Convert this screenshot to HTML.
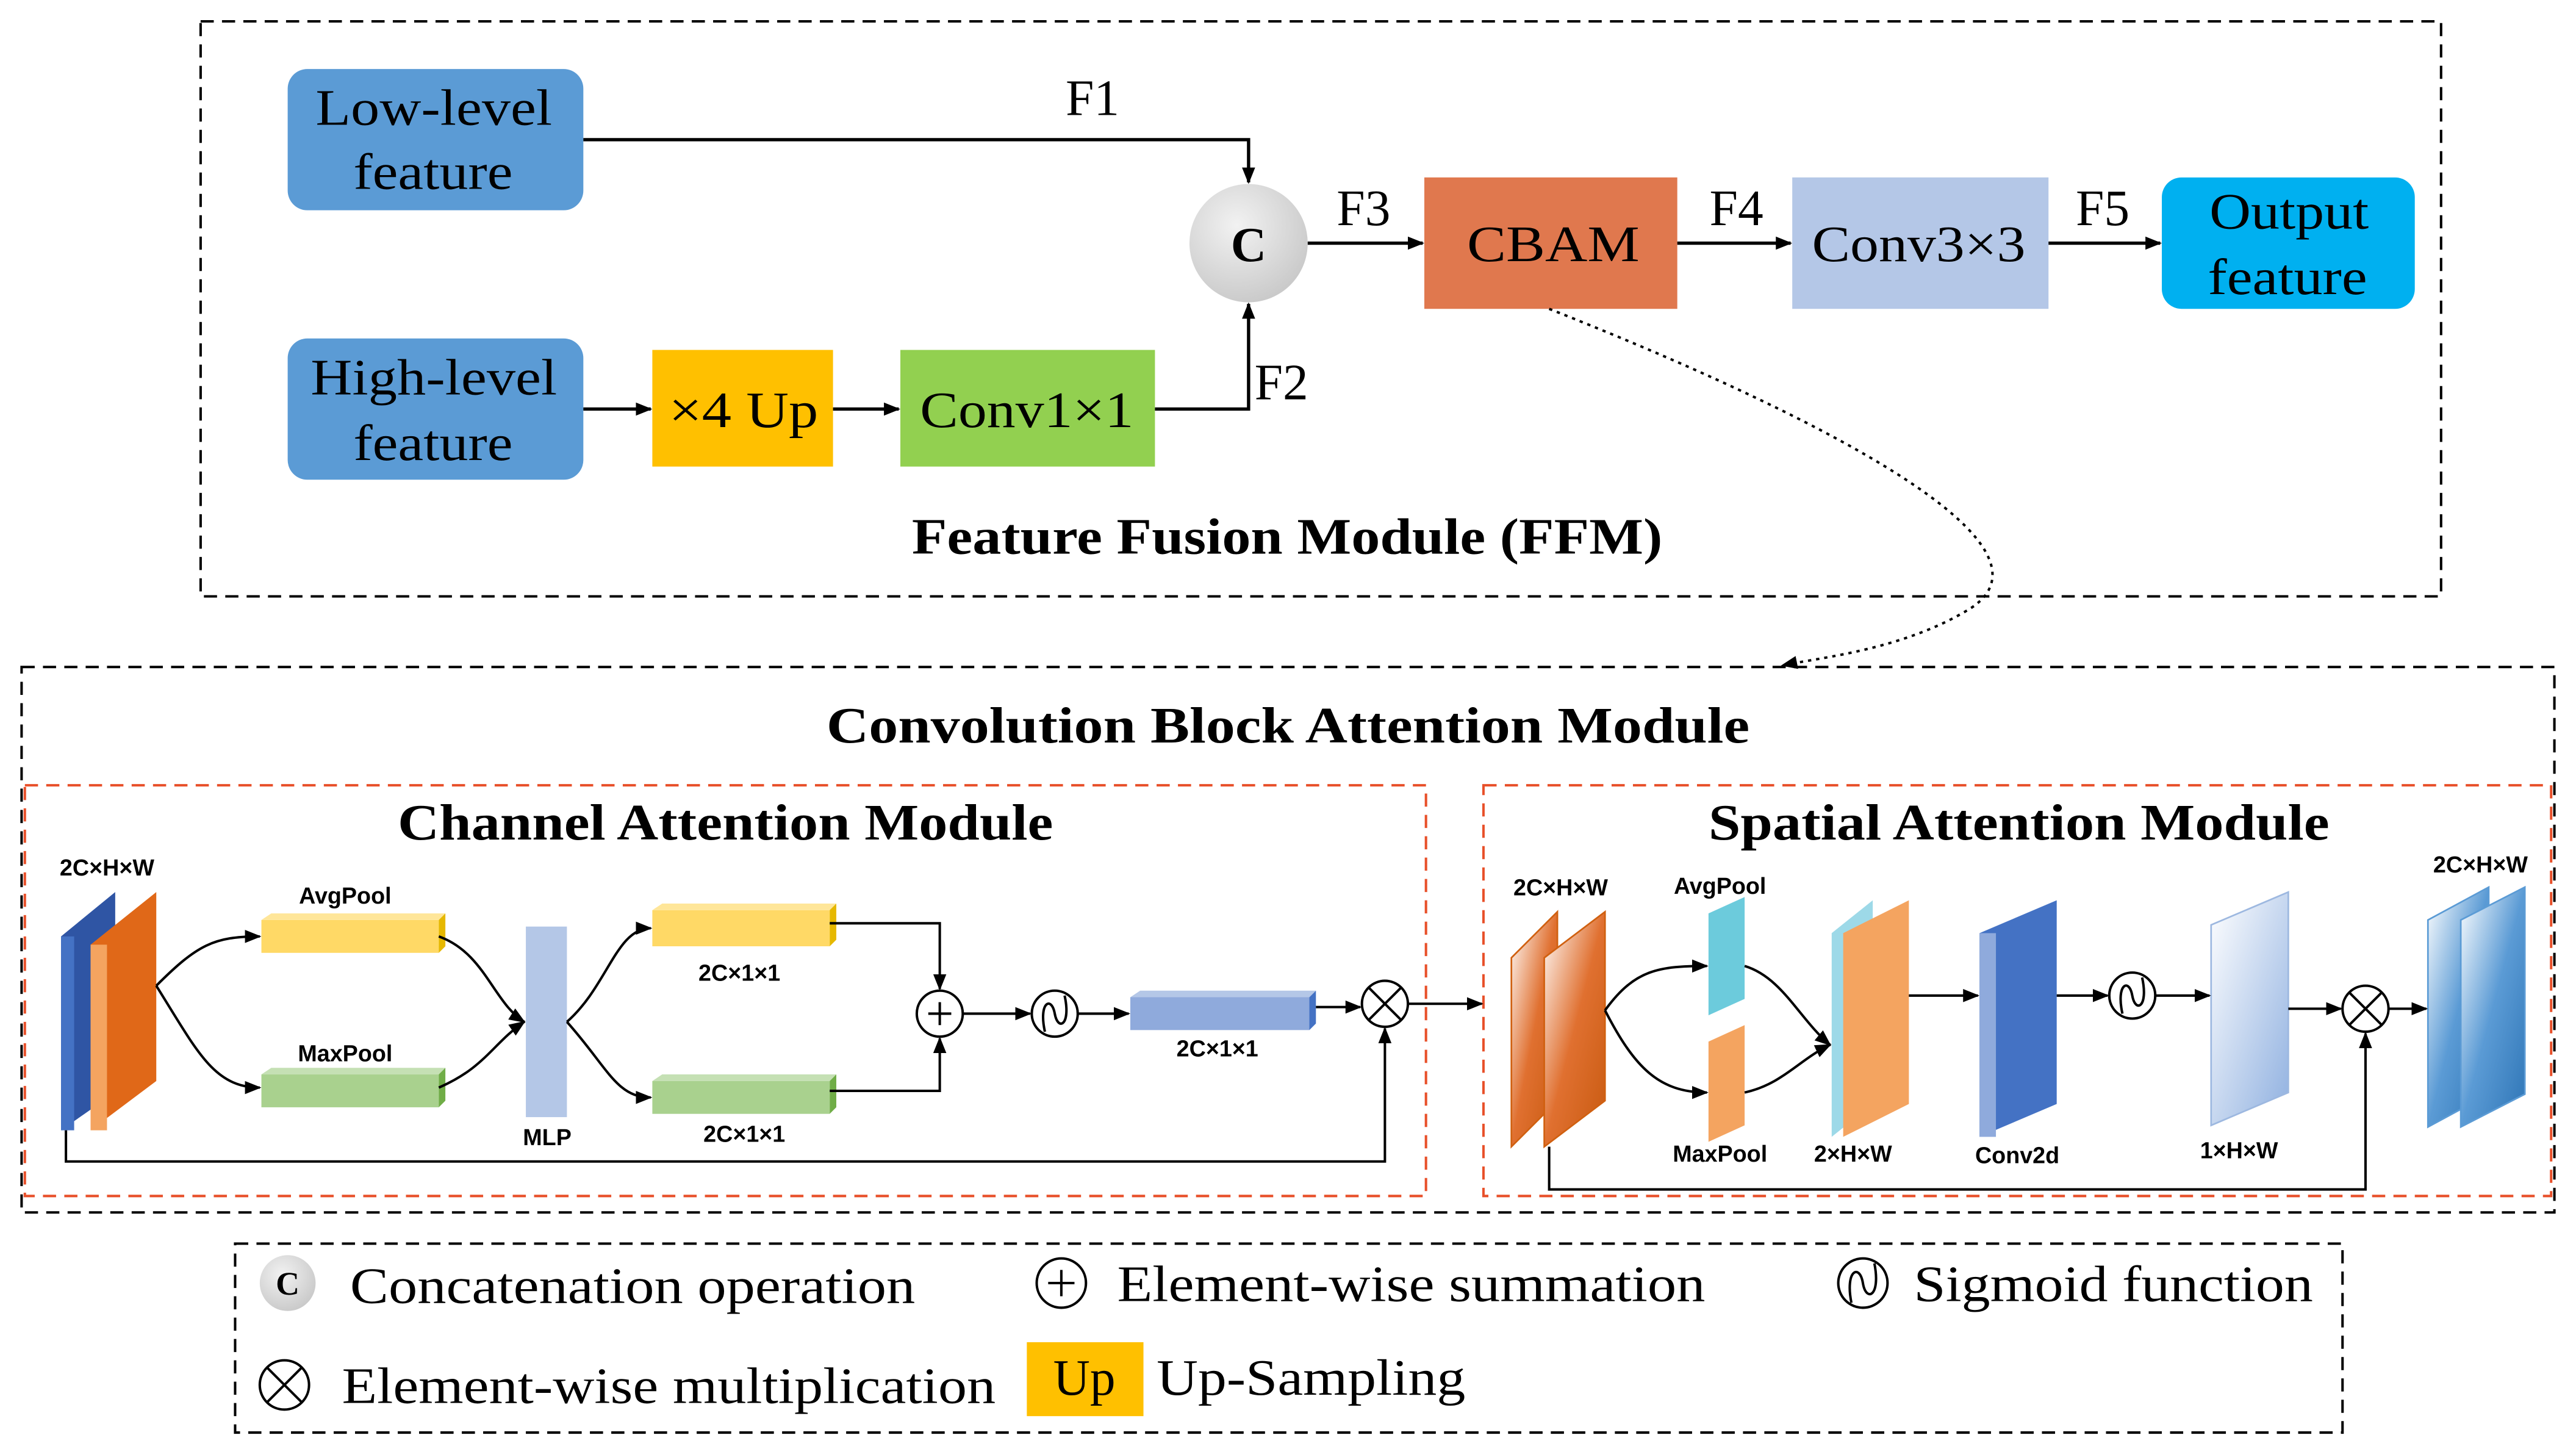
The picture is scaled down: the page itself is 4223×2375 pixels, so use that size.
<!DOCTYPE html>
<html><head><meta charset="utf-8"><style>
html,body{margin:0;padding:0;background:#fff;}
svg{display:block;}
.serif{font-family:"Liberation Serif",serif;}
.sb{font-family:"Liberation Sans",sans-serif;font-weight:bold;font-size:14px;}
</style></head><body>
<svg width="4223" height="2375" viewBox="0 0 1568 882" xmlns="http://www.w3.org/2000/svg">
<defs>
<marker id="ar" markerWidth="10" markerHeight="10" refX="9" refY="5" orient="auto" markerUnits="userSpaceOnUse"><path d="M0,1 L10,5 L0,9 z" fill="#000"/></marker>
<radialGradient id="cg" cx="40%" cy="35%" r="70%"><stop offset="0" stop-color="#f2f2f2"/><stop offset="1" stop-color="#c8c8c8"/></radialGradient>
<linearGradient id="wb" x1="0" y1="0" x2="1" y2="1"><stop offset="0" stop-color="#fff"/><stop offset="1" stop-color="#8fb0e0"/></linearGradient>
<linearGradient id="ob" x1="0" y1="0" x2="1" y2="1"><stop offset="0" stop-color="#fff"/><stop offset="0.5" stop-color="#e07030"/><stop offset="1" stop-color="#c85a10"/></linearGradient>
<linearGradient id="bb" x1="0" y1="0" x2="1" y2="1"><stop offset="0" stop-color="#fff"/><stop offset="0.5" stop-color="#5b9bd5"/><stop offset="1" stop-color="#2e75b6"/></linearGradient>
</defs>
<g fill="none" stroke="#000" stroke-width="1.5">
<rect x="122" y="13" width="1364" height="350" stroke-dasharray="8,5"/>
<rect x="13" y="406" width="1542" height="332" stroke-dasharray="8,5"/>
<rect x="143" y="757" width="1283" height="115" stroke-dasharray="8,5"/>
<rect x="15" y="478" width="853" height="250" stroke="#e8502a" stroke-dasharray="8,5"/>
<rect x="903" y="478" width="650" height="250" stroke="#e8502a" stroke-dasharray="8,5"/>
</g>
<rect x="175" y="42" width="180" height="86" rx="12" fill="#5b9bd5"/>
<rect x="175" y="206" width="180" height="86" rx="12" fill="#5b9bd5"/>
<rect x="397" y="213" width="110" height="71" fill="#ffc000"/>
<rect x="548" y="213" width="155" height="71" fill="#92d050"/>
<circle cx="760" cy="148" r="36" fill="url(#cg)"/>
<rect x="867" y="108" width="154" height="80" fill="#e0784e"/>
<rect x="1091" y="108" width="156" height="80" fill="#b4c7e7"/>
<rect x="1316" y="108" width="154" height="80" rx="12" fill="#00b0f0"/>
<g class="serif" font-size="31" fill="#000" lengthAdjust="spacingAndGlyphs">
<text x="192" y="76" textLength="144" lengthAdjust="spacingAndGlyphs">Low-level</text>
<text x="215" y="115" textLength="97" lengthAdjust="spacingAndGlyphs">feature</text>
<text x="189" y="240" textLength="150" lengthAdjust="spacingAndGlyphs">High-level</text>
<text x="215" y="280" textLength="97" lengthAdjust="spacingAndGlyphs">feature</text>
<text x="407" y="260" textLength="91" lengthAdjust="spacingAndGlyphs">×4 Up</text>
<text x="560" y="260" textLength="130" lengthAdjust="spacingAndGlyphs">Conv1×1</text>
<text x="760" y="159" font-weight="bold" font-size="30" text-anchor="middle">C</text>
<text x="893" y="159" textLength="105" lengthAdjust="spacingAndGlyphs">CBAM</text>
<text x="1103" y="159" textLength="130" lengthAdjust="spacingAndGlyphs">Conv3×3</text>
<text x="1345" y="139" textLength="97" lengthAdjust="spacingAndGlyphs">Output</text>
<text x="1344" y="179" textLength="97" lengthAdjust="spacingAndGlyphs">feature</text>
<text x="665" y="70" text-anchor="middle">F1</text>
<text x="780" y="243" text-anchor="middle">F2</text>
<text x="830" y="137" text-anchor="middle">F3</text>
<text x="1057" y="137" text-anchor="middle">F4</text>
<text x="1280" y="137" text-anchor="middle">F5</text>
<text x="555" y="337" font-weight="bold" textLength="457" lengthAdjust="spacingAndGlyphs">Feature Fusion Module (FFM)</text>
<text x="503" y="452" font-weight="bold" textLength="562" lengthAdjust="spacingAndGlyphs">Convolution Block  Attention Module</text>
<text x="242" y="511" font-weight="bold" textLength="399" lengthAdjust="spacingAndGlyphs">Channel Attention Module</text>
<text x="1040" y="511" font-weight="bold" textLength="378" lengthAdjust="spacingAndGlyphs">Spatial Attention Module</text>
</g>
<g fill="none" stroke="#000" stroke-width="2" marker-end="url(#ar)">
<path d="M355,85 H760 V111"/>
<path d="M355,249 H396"/>
<path d="M507,249 H547"/>
<path d="M703,249 H760 V185"/>
<path d="M796,148 H866"/>
<path d="M1021,148 H1090"/>
<path d="M1247,148 H1315"/>
</g>
<path d="M943,188 C1100,250 1260,330 1200,370 C1160,395 1110,400 1085,405" fill="none" stroke="#000" stroke-width="1.5" stroke-dasharray="2,3" marker-end="url(#ar)"/>
<polygon points="37,570 70,543 70,665 37,688" fill="#2f55a4"/>
<polygon points="37,570 45,570 45,688 37,688" fill="#4472c4"/>
<polygon points="55,575 95,543 95,658 55,688" fill="#e06818"/>
<polygon points="55,575 65,575 65,688 55,688" fill="#f4a460"/>
<rect x="159" y="560" width="108" height="20" fill="#ffd966"/><polygon points="159,560 165,556 271,556 267,560" fill="#ffe699"/><polygon points="267,560 271,556 271,576 267,580" fill="#e6b800"/>
<rect x="159" y="654" width="108" height="20" fill="#a9d18e"/><polygon points="159,654 165,650 271,650 267,654" fill="#c5e0b4"/><polygon points="267,654 271,650 271,670 267,674" fill="#70ad47"/>
<rect x="320" y="564" width="25" height="116" fill="#b4c7e7"/>
<rect x="397" y="554" width="108" height="22" fill="#ffd966"/><polygon points="397,554 403,550 509,550 505,554" fill="#ffe699"/><polygon points="505,554 509,550 509,572 505,576" fill="#e6b800"/>
<rect x="397" y="658" width="108" height="20" fill="#a9d18e"/><polygon points="397,658 403,654 509,654 505,658" fill="#c5e0b4"/><polygon points="505,658 509,654 509,674 505,678" fill="#70ad47"/>
<rect x="688" y="607" width="109" height="20" fill="#8faadc"/><polygon points="688,607 694,603 801,603 797,607" fill="#b4c7e7"/><polygon points="797,607 801,603 801,623 797,627" fill="#4472c4"/>
<g fill="#fff" stroke="#000" stroke-width="1.5">
<circle cx="572" cy="617" r="14"/><circle cx="642" cy="617" r="14"/><circle cx="843" cy="611" r="14"/>
<circle cx="1298" cy="606" r="14"/><circle cx="1440" cy="614" r="14"/>
</g>
<g stroke="#000" stroke-width="1.5" fill="none">
<path d="M565,617 H579 M572,610 V624"/>
<path d="M833,601 L853,621 M853,601 L833,621"/>
<path d="M1430,604 L1450,624 M1450,604 L1430,624"/>
<path d="M636,628 C632,610 640,606 642,617 C644,628 652,624 648,606"/>
<path d="M1292,617 C1288,599 1296,595 1298,606 C1300,617 1308,613 1304,595"/>
</g>
<g fill="none" stroke="#000" stroke-width="1.5" marker-end="url(#ar)">
<path d="M95,600 C120,575 130,570 158,570"/>
<path d="M95,600 C120,640 130,662 158,662"/>
<path d="M267,570 C295,580 300,610 319,622"/>
<path d="M267,662 C295,650 300,635 319,622"/>
<path d="M345,622 C370,600 375,565 396,565"/>
<path d="M345,622 C370,650 375,668 396,668"/>
<path d="M505,562 H572 V602"/>
<path d="M505,664 H572 V632"/>
<path d="M586,617 H627"/>
<path d="M656,617 H687"/>
<path d="M801,613 H828"/>
<path d="M857,611 H902"/>
<path d="M40,688 V707 H843 V626"/>
</g>
<polygon points="920,583 948,555 948,670 920,698" fill="url(#ob)" stroke="#d06010"/>
<polygon points="940,583 977,555 977,670 940,698" fill="url(#ob)" stroke="#d06010"/>
<polygon points="1040,556 1062,546 1062,608 1040,618" fill="#6ccbdc"/>
<polygon points="1040,634 1062,624 1062,685 1040,695" fill="#f4a460"/>
<polygon points="1115,568 1140,548 1140,672 1115,692" fill="#9dd9e8"/>
<polygon points="1122,568 1162,548 1162,672 1122,692" fill="#f4a460"/>
<polygon points="1205,568 1252,548 1252,672 1205,692" fill="#4472c4"/>
<polygon points="1205,568 1215,568 1215,692 1205,692" fill="#8faadc"/>
<polygon points="1346,563 1393,543 1393,665 1346,685" fill="url(#wb)" stroke="#9db8e0"/>
<polygon points="1478,560 1515,540 1515,666 1478,686" fill="url(#bb)" stroke="#5b9bd5"/>
<polygon points="1498,560 1537,540 1537,666 1498,686" fill="url(#bb)" stroke="#5b9bd5"/>
<g fill="none" stroke="#000" stroke-width="1.5" marker-end="url(#ar)">
<path d="M977,615 C995,590 1010,588 1039,588"/>
<path d="M977,615 C995,650 1010,665 1039,665"/>
<path d="M1062,588 C1085,595 1095,620 1114,636"/>
<path d="M1062,665 C1085,660 1095,645 1114,636"/>
<path d="M1162,606 H1204"/>
<path d="M1252,606 H1283"/>
<path d="M1312,606 H1345"/>
<path d="M1393,614 H1425"/>
<path d="M1454,614 H1477"/>
<path d="M943,698 V724 H1440 V629"/>
</g>
<g class="sb" text-anchor="middle" fill="#000">
<text x="65" y="533">2C×H×W</text>
<text x="210" y="550">AvgPool</text>
<text x="210" y="646">MaxPool</text>
<text x="333" y="697">MLP</text>
<text x="450" y="597">2C×1×1</text>
<text x="453" y="695">2C×1×1</text>
<text x="741" y="643">2C×1×1</text>
<text x="950" y="545">2C×H×W</text>
<text x="1047" y="544">AvgPool</text>
<text x="1047" y="707">MaxPool</text>
<text x="1128" y="707">2×H×W</text>
<text x="1228" y="708">Conv2d</text>
<text x="1363" y="705">1×H×W</text>
<text x="1510" y="531">2C×H×W</text>
</g>
<circle cx="175" cy="781" r="17" fill="url(#cg)"/>
<text x="175" y="788" class="serif" font-size="20" font-weight="bold" text-anchor="middle">C</text>
<g fill="#fff" stroke="#000" stroke-width="1.5">
<circle cx="646" cy="781" r="15"/><circle cx="1134" cy="781" r="15"/><circle cx="173" cy="843" r="15"/>
</g>
<g stroke="#000" stroke-width="1.5" fill="none">
<path d="M638,781 H654 M646,773 V789"/>
<path d="M162,832 L184,854 M184,832 L162,854"/>
<path d="M1127,793 C1123,773 1132,769 1134,781 C1136,793 1145,789 1141,769"/>
</g>
<rect x="625" y="817" width="71" height="45" fill="#ffc000"/>
<g class="serif" font-size="31" fill="#000">
<text x="213" y="793" textLength="344" lengthAdjust="spacingAndGlyphs">Concatenation operation</text>
<text x="680" y="792" textLength="358" lengthAdjust="spacingAndGlyphs">Element-wise summation</text>
<text x="1165" y="792" textLength="243" lengthAdjust="spacingAndGlyphs">Sigmoid function</text>
<text x="208" y="854" textLength="398" lengthAdjust="spacingAndGlyphs">Element-wise multiplication</text>
<text x="660" y="849" text-anchor="middle">Up</text>
<text x="704" y="849" textLength="188" lengthAdjust="spacingAndGlyphs">Up-Sampling</text>
</g>
</svg>
</body></html>
